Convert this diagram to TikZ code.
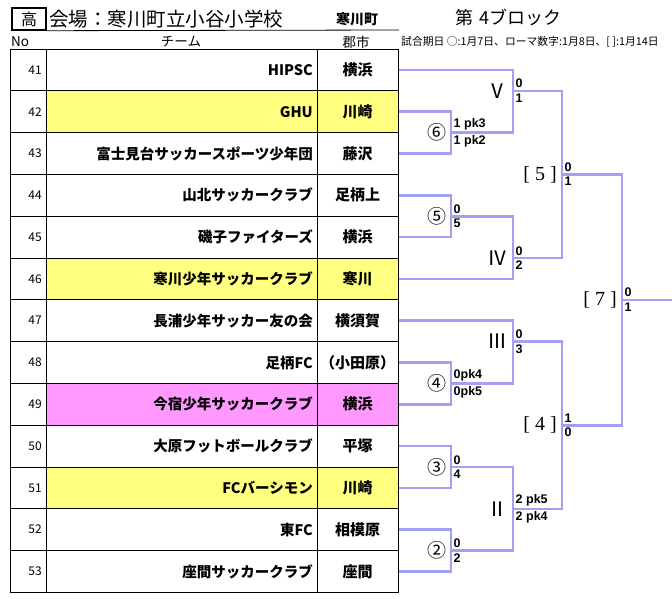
\documentclass[tikz,border=0pt]{standalone}
\usepackage{fontspec}
\setmainfont{Liberation Sans}
\newfontfamily\jp{Noto Sans CJK JP}
\newfontfamily\brfont{Liberation Serif}
\usepackage{tikz}
\definecolor{bracket}{RGB}{160,160,245}
\definecolor{rowyellow}{RGB}{255,255,128}
\definecolor{rowpink}{RGB}{255,153,255}
\tikzset{
  br/.style={draw=bracket, line width=2.6pt},
  tbl/.style={draw=black, line width=0.8pt},
  hdr/.style={inner sep=0pt, font=\jp\fontsize{13.5}{13.5}\selectfont},
  num/.style={anchor=east, inner sep=0pt, font=\jp\fontsize{12}{12}\selectfont},
  team/.style={anchor=east, inner sep=0pt, font=\jp\bfseries\fontsize{14.5}{15}\selectfont},
  city/.style={inner sep=0pt, font=\jp\bfseries\fontsize{15}{15}\selectfont},
  score/.style={inner sep=2.5pt, font=\bfseries\fontsize{12.5}{12.5}\selectfont},
  circ/.style={inner sep=0pt, left=4pt, font=\jp\fontsize{19}{19}\selectfont},
  roman/.style={inner sep=0pt, left=5pt, font=\jp\fontsize{20}{20}\selectfont},
  kbr/.style={inner sep=0pt, left=5pt, font=\brfont\fontsize{20}{20}\selectfont},
}

\begin{document}
\begin{tikzpicture}[x=1pt, y=-1pt]
\useasboundingbox (0,0) rectangle (672,598);

% heading
\node[draw, line width=1.4pt, minimum width=34pt, minimum height=22pt, inner sep=0pt, font=\jp\fontsize{16}{16}\selectfont] (kou) at (29,19) {高};
\node[anchor=west, inner sep=0pt, font=\jp\fontsize{19.5}{20}\selectfont] (venue) at (49,19) {会場：寒川町立小谷小学校};
\node[inner sep=0pt, font=\jp\bfseries\fontsize{14}{14}\selectfont] (town) at (357,19) {寒川町};
\node[anchor=west, inner sep=0pt, font=\jp\fontsize{18}{18}\selectfont] (block) at (455,18) {第\hspace{6pt}4ブロック};
\draw[tbl] (kou.south east) -- (399,30);

\node[hdr, anchor=west] (hno) at (11,42) {No};
\node[hdr] (hteam) at (181,42) {チーム};
\node[hdr] (hcity) at (356,42) {郡市};
\node[anchor=west, inner sep=0pt, font=\jp\fontsize{10.8}{11}\selectfont] (note) at (401,42) {試合期日 ○:1月7日、ローマ数字:1月8日、[ ]:1月14日};

% table
\fill[rowyellow] (46,90.8) rectangle (398,132.6);
\fill[rowyellow] (46,258) rectangle (398,299.8);
\fill[rowpink] (46,383.4) rectangle (398,425.2);
\fill[rowyellow] (46,467) rectangle (398,508.8);
\draw[tbl] (10,49) rectangle (398,592.4);
\draw[tbl] (46,49) -- (46,592.4);
\draw[tbl] (317,49) -- (317,592.4);
\foreach \k in {1,...,12}
  \draw[tbl] (10,{49+41.8*\k}) -- (398,{49+41.8*\k});

\node[num] (n41) at (42,69.9) {41};
\node[team] (team41) at (313,69.9) {HIPSC};
\node[city] (city41) at (357.5,69.9) {横浜};
\node[num] (n42) at (42,111.7) {42};
\node[team] (team42) at (313,111.7) {GHU};
\node[city] (city42) at (357.5,111.7) {川崎};
\node[num] (n43) at (42,153.5) {43};
\node[team] (team43) at (313,153.5) {富士見台サッカースポーツ少年団};
\node[city] (city43) at (357.5,153.5) {藤沢};
\node[num] (n44) at (42,195.3) {44};
\node[team] (team44) at (313,195.3) {山北サッカークラブ};
\node[city] (city44) at (357.5,195.3) {足柄上};
\node[num] (n45) at (42,237.1) {45};
\node[team] (team45) at (313,237.1) {磯子ファイターズ};
\node[city] (city45) at (357.5,237.1) {横浜};
\node[num] (n46) at (42,278.9) {46};
\node[team] (team46) at (313,278.9) {寒川少年サッカークラブ};
\node[city] (city46) at (357.5,278.9) {寒川};
\node[num] (n47) at (42,320.7) {47};
\node[team] (team47) at (313,320.7) {長浦少年サッカー友の会};
\node[city] (city47) at (357.5,320.7) {横須賀};
\node[num] (n48) at (42,362.5) {48};
\node[team] (team48) at (313,362.5) {足柄FC};
\node[city] (city48) at (357.5,362.5) {（小田原）};
\node[num] (n49) at (42,404.3) {49};
\node[team] (team49) at (313,404.3) {今宿少年サッカークラブ};
\node[city] (city49) at (357.5,404.3) {横浜};
\node[num] (n50) at (42,446.1) {50};
\node[team] (team50) at (313,446.1) {大原フットボールクラブ};
\node[city] (city50) at (357.5,446.1) {平塚};
\node[num] (n51) at (42,487.9) {51};
\node[team] (team51) at (313,487.9) {FCバーシモン};
\node[city] (city51) at (357.5,487.9) {川崎};
\node[num] (n52) at (42,529.7) {52};
\node[team] (team52) at (313,529.7) {東FC};
\node[city] (city52) at (357.5,529.7) {相模原};
\node[num] (n53) at (42,571.5) {53};
\node[team] (team53) at (313,571.5) {座間サッカークラブ};
\node[city] (city53) at (357.5,571.5) {座間};

% bracket
\coordinate (t41) at (399,69.9);
\coordinate (t42) at (399,111.7);
\coordinate (t43) at (399,153.5);
\coordinate (t44) at (399,195.3);
\coordinate (t45) at (399,237.1);
\coordinate (t46) at (399,278.9);
\coordinate (t47) at (399,320.7);
\coordinate (t48) at (399,362.5);
\coordinate (t49) at (399,404.3);
\coordinate (t50) at (399,446.1);
\coordinate (t51) at (399,487.9);
\coordinate (t52) at (399,529.7);
\coordinate (t53) at (399,571.5);

\coordinate (m6) at (451,132.6);
\coordinate (m5) at (451,216.2);
\coordinate (m4) at (451,383.4);
\coordinate (m3) at (451,467);
\coordinate (m2) at (451,550.6);
\coordinate (mV) at (513,90.8);
\coordinate (mIV) at (513,258);
\coordinate (mIII) at (513,341.6);
\coordinate (mII) at (513,508.8);
\coordinate (k5) at (562,174.4);
\coordinate (k4) at (562,425.2);
\coordinate (k7) at (622,299.8);
\coordinate (win) at (672,299.8);

\draw[br] (t42) -| (m6) |- (t43);
\draw[br] (t44) -| (m5) |- (t45);
\draw[br] (t48) -| (m4) |- (t49);
\draw[br] (t50) -| (m3) |- (t51);
\draw[br] (t52) -| (m2) |- (t53);
\draw[br] (t41) -| (mV) |- (m6);
\draw[br] (m5) -| (mIV) |- (t46);
\draw[br] (t47) -| (mIII) |- (m4);
\draw[br] (m3) -| (mII) |- (m2);
\draw[br] (mV) -| (k5) |- (mIV);
\draw[br] (mIII) -| (k4) |- (mII);
\draw[br] (k5) -| (k7) |- (k4);
\draw[br] (k7) -- (win);

\node[circ] (l6) at (m6) {⑥};
\node[circ] (l5) at (m5) {⑤};
\node[circ] (l4) at (m4) {④};
\node[circ] (l3) at (m3) {③};
\node[circ] (l2) at (m2) {②};
\node[roman] (lV) at (mV) {Ⅴ};
\node[roman] (lIV) at (mIV) {Ⅳ};
\node[roman] (lIII) at (mIII) {Ⅲ};
\node[roman] (lII) at (mII) {Ⅱ};
\node[kbr] (lk5) at (k5) {[\ 5\ ]};
\node[kbr] (lk4) at (k4) {[\ 4\ ]};
\node[kbr] (lk7) at (k7) {[\ 7\ ]};

% scores
\node[score, above right] (s6a) at (m6) {1 pk3};
\node[score, below right] (s6b) at (m6) {1 pk2};
\node[score, above right] (s5a) at (m5) {0};
\node[score, below right] (s5b) at (m5) {5};
\node[score, above right] (s4a) at (m4) {0pk4};
\node[score, below right] (s4b) at (m4) {0pk5};
\node[score, above right] (s3a) at (m3) {0};
\node[score, below right] (s3b) at (m3) {4};
\node[score, above right] (s2a) at (m2) {0};
\node[score, below right] (s2b) at (m2) {2};
\node[score, above right] (sVa) at (mV) {0};
\node[score, below right] (sVb) at (mV) {1};
\node[score, above right] (sIVa) at (mIV) {0};
\node[score, below right] (sIVb) at (mIV) {2};
\node[score, above right] (sIIIa) at (mIII) {0};
\node[score, below right] (sIIIb) at (mIII) {3};
\node[score, above right] (sIIa) at (mII) {2 pk5};
\node[score, below right] (sIIb) at (mII) {2 pk4};
\node[score, above right] (sk5a) at (k5) {0};
\node[score, below right] (sk5b) at (k5) {1};
\node[score, above right] (sk4a) at (k4) {1};
\node[score, below right] (sk4b) at (k4) {0};
\node[score, above right] (sk7a) at (k7) {0};
\node[score, below right] (sk7b) at (k7) {1};

\end{tikzpicture}
\end{document}
